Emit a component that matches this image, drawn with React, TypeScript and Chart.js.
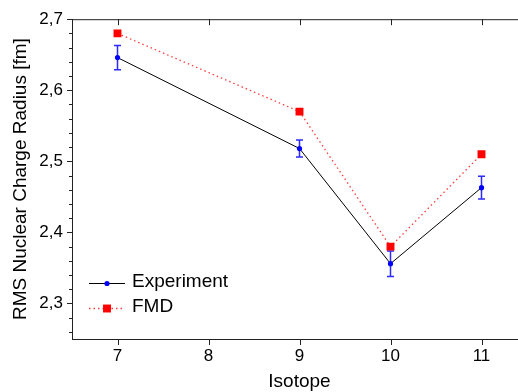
import React, { useEffect, useRef } from 'react';
import { Chart, registerables } from 'chart.js';

Chart.register(...registerables);

// ---- data ----
const isotopes = [7, 9, 10, 11];
const experiment = [2.646, 2.518, 2.356, 2.463];
const experimentErr = [0.017, 0.012, 0.018, 0.016];
const fmd = [2.68, 2.57, 2.38, 2.51];
const seriesNames = ['Experiment', 'FMD'];
const xTicks = [7, 8, 9, 10, 11];
const yTicks = [2.3, 2.4, 2.5, 2.6, 2.7];
const yMinorTicks = [2.26, 2.28, 2.32, 2.34, 2.36, 2.38, 2.42, 2.44, 2.46, 2.48, 2.52, 2.54, 2.56, 2.58, 2.62, 2.64, 2.66, 2.68];
const xMin = 6.5;
const xMax = 11.5;
const yMin = 2.25;
const yMax = 2.7;
const xTitle = 'Isotope';
const yTitle = 'RMS Nuclear Charge Radius [fm]';

// ---- layout / style ----
const CANVAS_W = 545;
const CANVAS_H = 392;
const FONT = '"Liberation Sans", Arial, sans-serif';
const AXIS_COLOR = '#222';

const decor = {
  id: 'decor',
  beforeDatasetsDraw(chart: any) {
    const { ctx, scales } = chart;
    const x = scales.x;
    const y = scales.y;
    ctx.save();
    ctx.strokeStyle = '#2b2bff';
    ctx.lineWidth = 1.5;
    isotopes.forEach((iso, i) => {
      const px = x.getPixelForValue(iso);
      const top = y.getPixelForValue(experiment[i] + experimentErr[i]);
      const bot = y.getPixelForValue(experiment[i] - experimentErr[i]);
      ctx.beginPath();
      ctx.moveTo(px, top);
      ctx.lineTo(px, bot);
      ctx.moveTo(px - 3.5, top);
      ctx.lineTo(px + 3.5, top);
      ctx.moveTo(px - 3.5, bot);
      ctx.lineTo(px + 3.5, bot);
      ctx.stroke();
    });
    ctx.restore();
  },
  afterDraw(chart: any) {
    const { ctx, chartArea, scales } = chart;
    const x = scales.x;
    const y = scales.y;
    const L = chartArea.left;
    const T = chartArea.top;
    const B = chartArea.bottom;
    const R = chart.width;
    ctx.save();
    ctx.strokeStyle = AXIS_COLOR;
    ctx.lineWidth = 1;
    ctx.beginPath();
    // frame lines
    ctx.moveTo(L + 0.5, T);
    ctx.lineTo(L + 0.5, B + 1);
    ctx.moveTo(L, B + 0.5);
    ctx.lineTo(R, B + 0.5);
    ctx.moveTo(L, T + 0.5);
    ctx.lineTo(R, T + 0.5);
    // y ticks
    yTicks.forEach((v) => {
      const py = Math.round(y.getPixelForValue(v)) + 0.5;
      ctx.moveTo(L - 5, py);
      ctx.lineTo(L, py);
    });
    yMinorTicks.forEach((v) => {
      const py = Math.round(y.getPixelForValue(v)) + 0.5;
      ctx.moveTo(L - 3, py);
      ctx.lineTo(L, py);
    });
    // x ticks (bottom outward, top inward)
    xTicks.forEach((v) => {
      const px = Math.round(x.getPixelForValue(v)) + 0.5;
      ctx.moveTo(px, B);
      ctx.lineTo(px, B + 6);
      ctx.moveTo(px, T);
      ctx.lineTo(px, T + 6);
    });
    ctx.stroke();

    // legend
    const ds = chart.data.datasets;
    const lx0 = L + 17;
    const lx1 = L + 53;
    const lmid = (lx0 + lx1) / 2;
    const rows = [B - 56, B - 31];
    ctx.font = `19px ${FONT}`;
    ctx.textBaseline = 'middle';
    ctx.textAlign = 'left';
    ctx.fillStyle = '#000';
    rows.forEach((ly, i) => {
      const d = ds[i];
      ctx.save();
      ctx.strokeStyle = d.borderColor;
      ctx.lineWidth = d.borderWidth;
      ctx.setLineDash(d.borderDash || []);
      ctx.beginPath();
      ctx.moveTo(lx0, ly + 0.5);
      ctx.lineTo(lx1, ly + 0.5);
      ctx.stroke();
      ctx.restore();
      ctx.fillStyle = d.pointBackgroundColor;
      if (d.pointStyle === 'rect') {
        const s = d.pointRadius * Math.SQRT2;
        ctx.fillRect(lmid - s / 2, ly + 0.5 - s / 2, s, s);
      } else {
        ctx.beginPath();
        ctx.arc(lmid, ly + 0.5, d.pointRadius, 0, Math.PI * 2);
        ctx.fill();
      }
      ctx.fillStyle = '#000';
      ctx.fillText(seriesNames[i], lx1 + 7, ly - 1);
    });
    ctx.restore();
  },
};

export default function App() {
  const ref = useRef<HTMLCanvasElement>(null);
  useEffect(() => {
    const canvas = ref.current;
    if (!canvas) return;
    const chart = new Chart(canvas, {
      type: 'line',
      data: {
        datasets: [
          {
            label: seriesNames[0],
            data: isotopes.map((v, i) => ({ x: v, y: experiment[i] })),
            borderColor: '#000000',
            borderWidth: 1,
            pointRadius: 2.6,
            pointBackgroundColor: '#0000ff',
            pointBorderColor: '#0000ff',
            pointBorderWidth: 0,
            tension: 0,
          },
          {
            label: seriesNames[1],
            data: isotopes.map((v, i) => ({ x: v, y: fmd[i] })),
            borderColor: 'rgba(255,40,40,0.9)',
            borderWidth: 1.3,
            borderDash: [1.5, 3],
            pointStyle: 'rect',
            pointRadius: 5.6,
            pointBackgroundColor: '#ff0000',
            pointBorderColor: '#ff0000',
            pointBorderWidth: 0,
            tension: 0,
          },
        ] as any,
      },
      options: {
        responsive: false,
        animation: false,
        layout: { padding: { top: 17, right: CANVAS_W - 527, left: 0, bottom: 0 } },
        plugins: { legend: { display: false }, tooltip: { enabled: false } },
        scales: {
          x: {
            type: 'linear',
            min: xMin,
            max: xMax,
            afterBuildTicks: (s: any) => {
              s.ticks = xTicks.map((v) => ({ value: v }));
            },
            afterFit: (s: any) => {
              s.height = 53;
            },
            grid: { display: true, drawOnChartArea: false, drawTicks: false, color: 'transparent' },
            border: { display: false },
            ticks: {
              padding: 7,
              color: '#000',
              font: { family: FONT, size: 17 },
              callback: (v: any) => String(v),
            },
            title: {
              display: true,
              text: xTitle,
              color: '#000',
              font: { family: FONT, size: 19, lineHeight: 1.1 },
              padding: { top: 0, bottom: 0 },
            },
          },
          y: {
            type: 'linear',
            min: yMin,
            max: yMax,
            afterBuildTicks: (s: any) => {
              s.ticks = yTicks.map((v) => ({ value: v }));
            },
            afterFit: (s: any) => {
              s.width = 72;
            },
            grid: { display: true, drawOnChartArea: false, drawTicks: false, color: 'transparent' },
            border: { display: false },
            ticks: {
              padding: 9,
              color: '#000',
              font: { family: FONT, size: 17 },
              callback: (v: any) => Number(v).toFixed(1).replace('.', ','),
            },
            title: {
              display: true,
              text: yTitle,
              color: '#000',
              font: { family: FONT, size: 19, lineHeight: 1.1 },
              padding: { top: 10, bottom: 0 },
            },
          },
        },
      } as any,
      plugins: [decor],
    });
    return () => chart.destroy();
  }, []);

  return (
    <div
      style={{
        position: 'fixed',
        left: 0,
        top: 0,
        width: 518,
        height: CANVAS_H,
        overflow: 'hidden',
        background: '#fff',
      }}
    >
      <canvas
        ref={ref}
        width={CANVAS_W}
        height={CANVAS_H}
        style={{ display: 'block', width: CANVAS_W, height: CANVAS_H }}
      />
    </div>
  );
}
